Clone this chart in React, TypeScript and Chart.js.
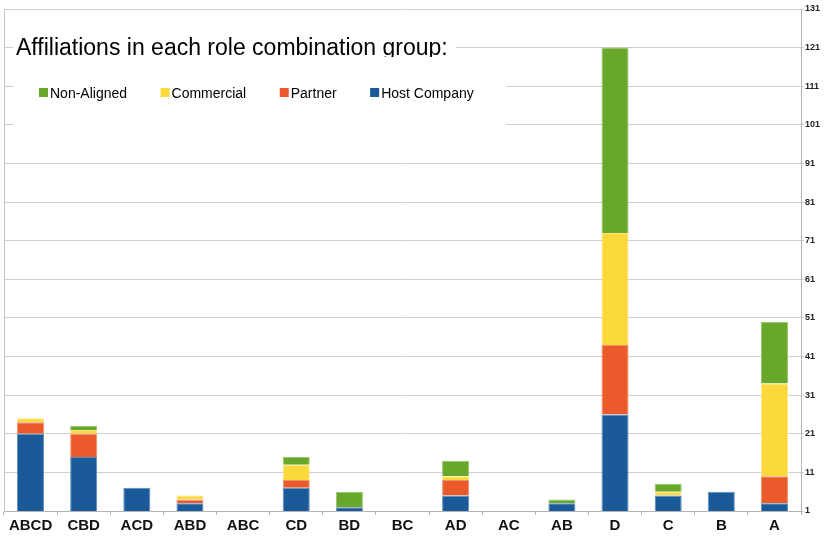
import React, { useEffect, useRef } from "react";
import { Chart, registerables } from "chart.js";

Chart.register(...registerables);

const FONT = '"Liberation Sans", Arial, Helvetica, sans-serif';

const TITLE = "Affiliations in each role combination group:";

const categories = ["ABCD", "CBD", "ACD", "ABD", "ABC", "CD", "BD", "BC", "AD", "AC", "AB", "D", "C", "B", "A"];

const hostCompany = [21, 15, 7, 3, 0, 7, 2, 0, 5, 0, 3, 26, 5, 6, 3];
const partner = [3, 6, 0, 1, 0, 2, 0, 0, 4, 0, 0, 18, 0, 0, 7];
const commercial = [1, 1, 0, 1, 0, 4, 0, 0, 1, 0, 0, 29, 1, 0, 24];
const nonAligned = [0, 1, 0, 0, 0, 2, 4, 0, 4, 0, 1, 48, 2, 0, 16];

const seriesLabels = ["Host Company", "Partner", "Commercial", "Non-Aligned"];
const seriesColors = ["#1a5a98", "#ea5a2b", "#fbd93a", "#67a82b"];
const seriesBorders = ["#5f8fc0", "#f28f6e", "#fde785", "#98c46c"];

const yMin = 1;
const yMax = 131;
const yStep = 10;

// White panel with the heading and a horizontal key, laid over the plot's top-left corner.
const headingPlugin = {
  id: "headingPanel",
  afterDraw(chart: any) {
    const ctx: CanvasRenderingContext2D = chart.ctx;
    const area = chart.chartArea;
    ctx.save();

    // left frame of the plot
    ctx.strokeStyle = "#c4c4c4";
    ctx.lineWidth = 1;
    ctx.beginPath();
    ctx.moveTo(area.left + 0.5, area.top);
    ctx.lineTo(area.left + 0.5, area.bottom);
    ctx.stroke();

    // heading panel
    ctx.fillStyle = "#ffffff";
    ctx.fillRect(13, 12, 443, 45);
    ctx.fillRect(13, 57, 493, 83);

    ctx.save();
    ctx.beginPath();
    ctx.rect(13, 12, 443, 45);
    ctx.clip();
    ctx.font = `23px ${FONT}`;
    ctx.fillStyle = "#000000";
    ctx.textBaseline = "alphabetic";
    ctx.textAlign = "left";
    ctx.fillText(TITLE, 16, 55);
    ctx.restore();

    // key, top series first
    ctx.font = `14px ${FONT}`;
    ctx.textBaseline = "alphabetic";
    ctx.textAlign = "left";
    let x = 39;
    const datasets = chart.data.datasets.slice().reverse();
    for (const ds of datasets) {
      ctx.fillStyle = ds.backgroundColor as string;
      ctx.fillRect(x, 88, 9, 9);
      ctx.fillStyle = "#000000";
      ctx.fillText(ds.label, x + 11, 98);
      x += 11 + ctx.measureText(ds.label).width + 33.5;
    }
    ctx.restore();
  },
};

export default function App() {
  const canvasRef = useRef<HTMLCanvasElement | null>(null);

  useEffect(() => {
    if (!canvasRef.current) return;
    const seriesValues = [hostCompany, partner, commercial, nonAligned];
    const chart = new Chart(canvasRef.current, {
      type: "bar",
      data: {
        labels: categories,
        datasets: seriesValues.map((values, i) => ({
          label: seriesLabels[i],
          data: values,
          backgroundColor: seriesColors[i],
          borderColor: seriesBorders[i],
          borderWidth: 1,
          categoryPercentage: 1,
          barPercentage: 0.51,
        })),
      },
      options: {
        responsive: false,
        animation: false,
        layout: { padding: { left: 4, top: 9, right: 0, bottom: 0 } },
        plugins: {
          legend: { display: false },
          title: { display: false },
          tooltip: { enabled: false },
        },
        scales: {
          x: {
            stacked: true,
            grid: {
              display: true,
              drawOnChartArea: false,
              drawTicks: true,
              tickLength: 4,
              color: "#b4b4b4",
              offset: true,
            },
            border: { display: true, color: "#b4b4b4" },
            ticks: {
              font: { family: FONT, size: 15, weight: "bold" },
              color: "#111111",
              padding: 2,
              maxRotation: 0,
              autoSkip: false,
            },
            afterFit(scale: any) {
              scale.height = 25;
            },
          },
          y: {
            position: "right",
            stacked: true,
            min: yMin,
            max: yMax,
            ticks: {
              stepSize: yStep,
              font: { family: FONT, size: 9, weight: "bold" },
              color: "#222222",
              padding: 1,
            },
            grid: { color: "#cfcfcf", tickLength: 3 },
            border: { display: true, color: "#b4b4b4" },
            afterFit(scale: any) {
              scale.width = 24;
            },
          },
        },
      },
      plugins: [headingPlugin],
    });
    return () => chart.destroy();
  }, []);

  return (
    <div style={{ position: "absolute", left: 0, top: 0, width: 825, height: 536, background: "#ffffff" }}>
      <canvas ref={canvasRef} width={825} height={536} />
    </div>
  );
}
